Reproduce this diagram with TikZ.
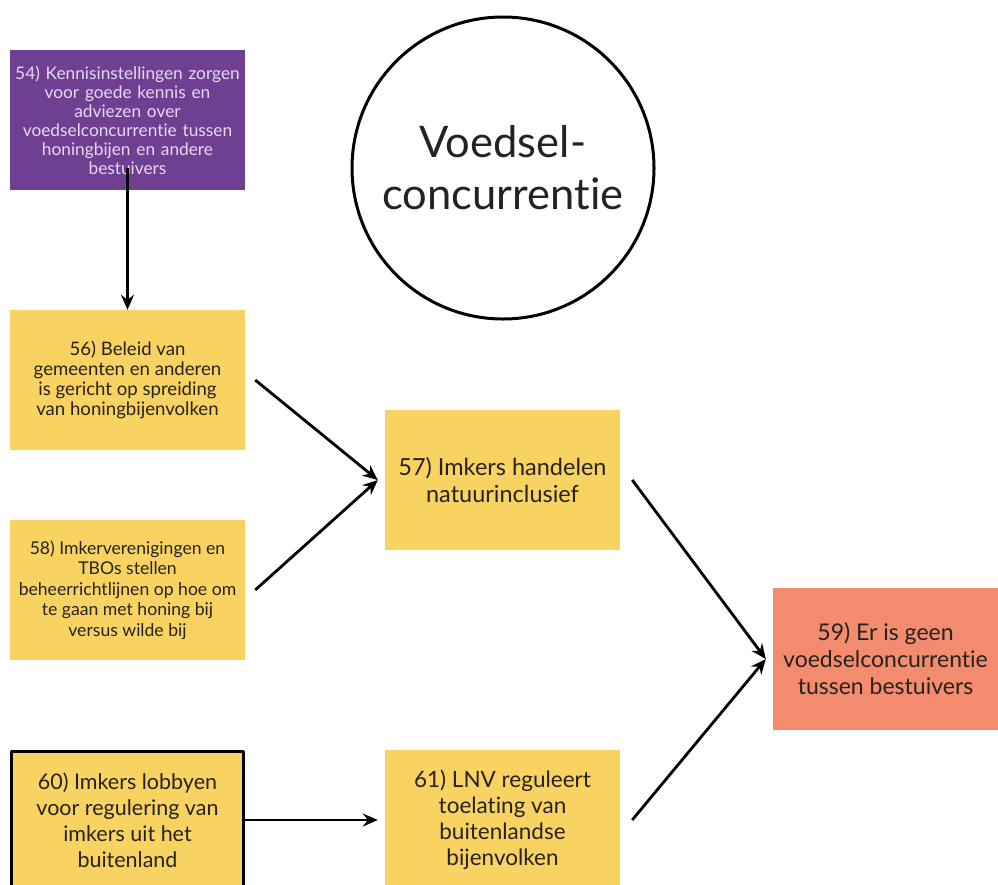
\documentclass[tikz,border=0pt]{standalone}
\usepackage{fontspec}
\setmainfont{Lato}[Ligatures=NoCommon]
\usetikzlibrary{arrows.meta}
\definecolor{geel}{RGB}{249,211,98}
\definecolor{paars}{RGB}{111,64,146}
\definecolor{zalm}{RGB}{243,139,110}
\definecolor{lila}{RGB}{230,216,242}
\definecolor{inkt}{RGB}{38,34,30}
\begin{document}
\begin{tikzpicture}[x=1pt,y=-1pt,line join=round,>={Stealth[length=15pt,width=13pt,inset=5pt]}]
		\tikzset{blok/.style={fill=geel,text=inkt,align=center,inner sep=0pt,minimum width=235pt,minimum height=140pt},
			groot/.style={font=\fontsize{22.5}{26}\selectfont},
			pijl/.style={->,line width=2.8pt}}
		\useasboundingbox (0,0) rectangle (998,884);
		\clip (0,0) rectangle (998,884);
		% doelen
		\node[blok,fill=paars,text=lila,font=\fontsize{17.3}{19}\selectfont,text width=235pt] (n54) at (127.5,120) {54) Kennisinstellingen zorgen\\voor goede kennis en\\adviezen over\\voedselconcurrentie tussen\\honingbijen en andere\\bestuivers};
		\node[blok,font=\fontsize{18.6}{20.3}\selectfont] (n56) at (127.5,380) {56) Beleid van\\gemeenten en anderen\\is gericht op spreiding\\van honingbijenvolken};
		\node[blok,font=\fontsize{17.6}{20.5}\selectfont] (n58) at (127.5,590) {58) Imkerverenigingen en\\TBOs stellen\\beheerrichtlijnen op hoe om\\te gaan met honing bij\\versus wilde bij};
		\node[blok,groot,font=\fontsize{21.5}{26}\selectfont,draw=black,line width=3.5pt,minimum width=232pt,minimum height=137pt] (n60) at (127.5,820) {60) Imkers lobbyen\\voor regulering van\\imkers uit het\\buitenland};
		\node[blok,font=\fontsize{23.5}{27}\selectfont] (n57) at (502.5,480) {57) Imkers handelen\\natuurinclusief};
		\node[blok,groot] (n61) at (502.5,820) {61) LNV reguleert\\toelating van\\buitenlandse\\bijenvolken};
		\node[blok,font=\fontsize{23}{27}\selectfont,fill=zalm,minimum width=225pt,minimum height=142pt] (n59) at (885.5,659) {59) Er is geen\\voedselconcurrentie\\tussen bestuivers};
		\node[draw=black,line width=3pt,circle,minimum size=302pt,align=center,text=inkt,font=\fontsize{43.5}{52}\selectfont] (thema) at (503,168) {Voedsel-\\concurrentie};
		% pijlen
		\draw[pijl] ([yshift=22pt]n54.south) -- (n56.north);
		\draw[pijl] ([xshift=10pt]n56.east) -- ([xshift=-7pt]n57.west);
		\draw[pijl] ([xshift=10pt]n58.east) -- ([xshift=-7pt]n57.west);
		\draw[pijl] ([xshift=12pt]n57.east) -- ([xshift=-7pt]n59.west);
		\draw[pijl] ([xshift=12pt]n61.east) -- ([xshift=-7pt]n59.west);
		\draw[pijl] (n60.east) -- ([xshift=-7pt]n61.west);
\end{tikzpicture}
\end{document}
